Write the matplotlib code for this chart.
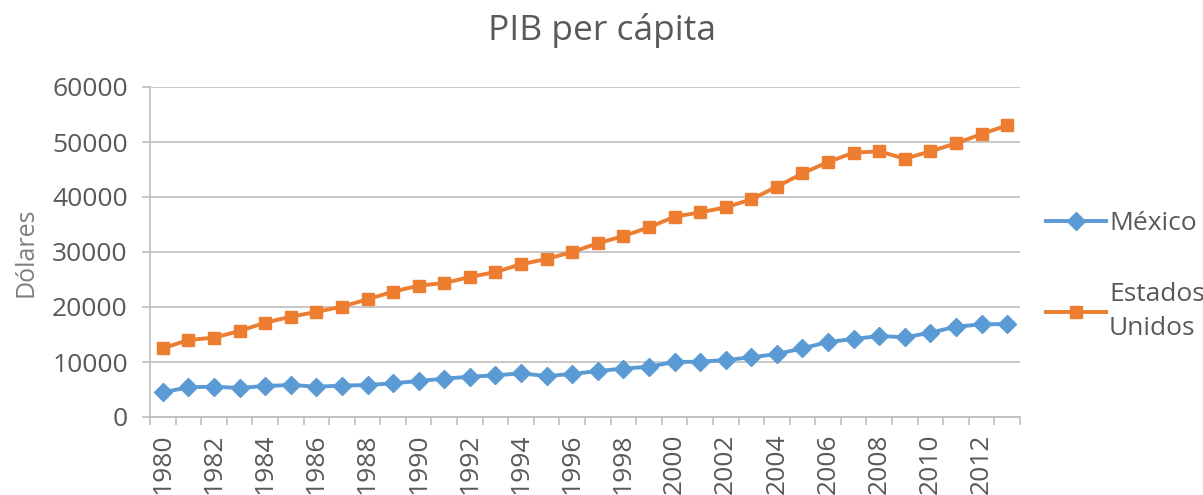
import matplotlib

matplotlib.use("Agg")
import matplotlib.pyplot as plt
import numpy as np


years = list(range(1980, 2014))

mexico = [
    4490, 5400, 5520, 5270, 5640, 5820, 5520, 5700, 5820, 6120,
    6550, 6970, 7330, 7580, 7940, 7450, 7820, 8360, 8790, 9150,
    10000, 10060, 10360, 10850, 11450, 12490, 13640, 14180, 14730, 14490,
    15330, 16420, 16850, 16910,
]

estados_unidos = [
    12490, 14000, 14420, 15640, 17150, 18240, 19100, 20060, 21400, 22790,
    23880, 24360, 25450, 26360, 27760, 28730, 30000, 31580, 32900, 34480,
    36420, 37210, 38120, 39580, 41880, 44300, 46360, 48060, 48300, 46970,
    48300, 49760, 51450, 53030,
]

TEXT = "#595959"
GRID = "#BFBFBF"
BLUE = "#5B9BD5"
ORANGE = "#ED7D31"

plt.rcParams["font.family"] = ["Open Sans", "DejaVu Sans"]

fig = plt.figure(figsize=(12.03, 4.95), dpi=100)
ax = fig.add_axes([150 / 1203, 1 - 417 / 495, 870 / 1203, 330 / 495])

x = np.arange(len(years))
ax.plot(x, mexico, color=BLUE, lw=2.8, marker="D", ms=9, label="México")
ax.plot(x, estados_unidos, color=ORANGE, lw=2.8, marker="s", ms=9,
        label="Estados\nUnidos")

ax.set_xlim(-0.5, len(years) - 0.5)
ax.set_ylim(0, 60000)
ax.set_yticks(range(0, 60001, 10000))
ax.yaxis.grid(True, color=GRID, lw=1.2)
ax.set_axisbelow(True)

ax.set_xticks(x[::2])
ax.set_xticklabels([str(y) for y in years[::2]], rotation=90)
ax.set_xticks(np.arange(-0.5, len(years), 1), minor=True)
ax.tick_params(axis="x", which="major", length=0, pad=12, labelsize=19,
               labelcolor=TEXT)
ax.tick_params(axis="x", which="minor", length=6, width=1.2, color=GRID)
ax.tick_params(axis="y", length=6, width=1.2, color=GRID, labelsize=19,
               labelcolor=TEXT, pad=10)

for side in ["top", "right"]:
    ax.spines[side].set_visible(False)
for side in ["left", "bottom"]:
    ax.spines[side].set_color(GRID)
    ax.spines[side].set_linewidth(1.2)

ax.set_ylabel("Dólares", fontsize=18, color="#7F7F7F", labelpad=10)
fig.text(0.5, 1 - 30 / 495, "PIB per cápita", fontsize=25.5, color=TEXT,
         ha="center", va="center")

leg = ax.legend(loc="center left", bbox_to_anchor=(1035 / 1203, 1 - 276 / 495),
                bbox_transform=fig.transFigure, frameon=False, fontsize=19,
                labelcolor=TEXT, handlelength=2.3, handletextpad=0.1,
                labelspacing=1.75, borderaxespad=0)
for t in leg.get_texts():
    t.set_linespacing(1.45)

fig.savefig("out.png", dpi=100)
plt.close(fig)
